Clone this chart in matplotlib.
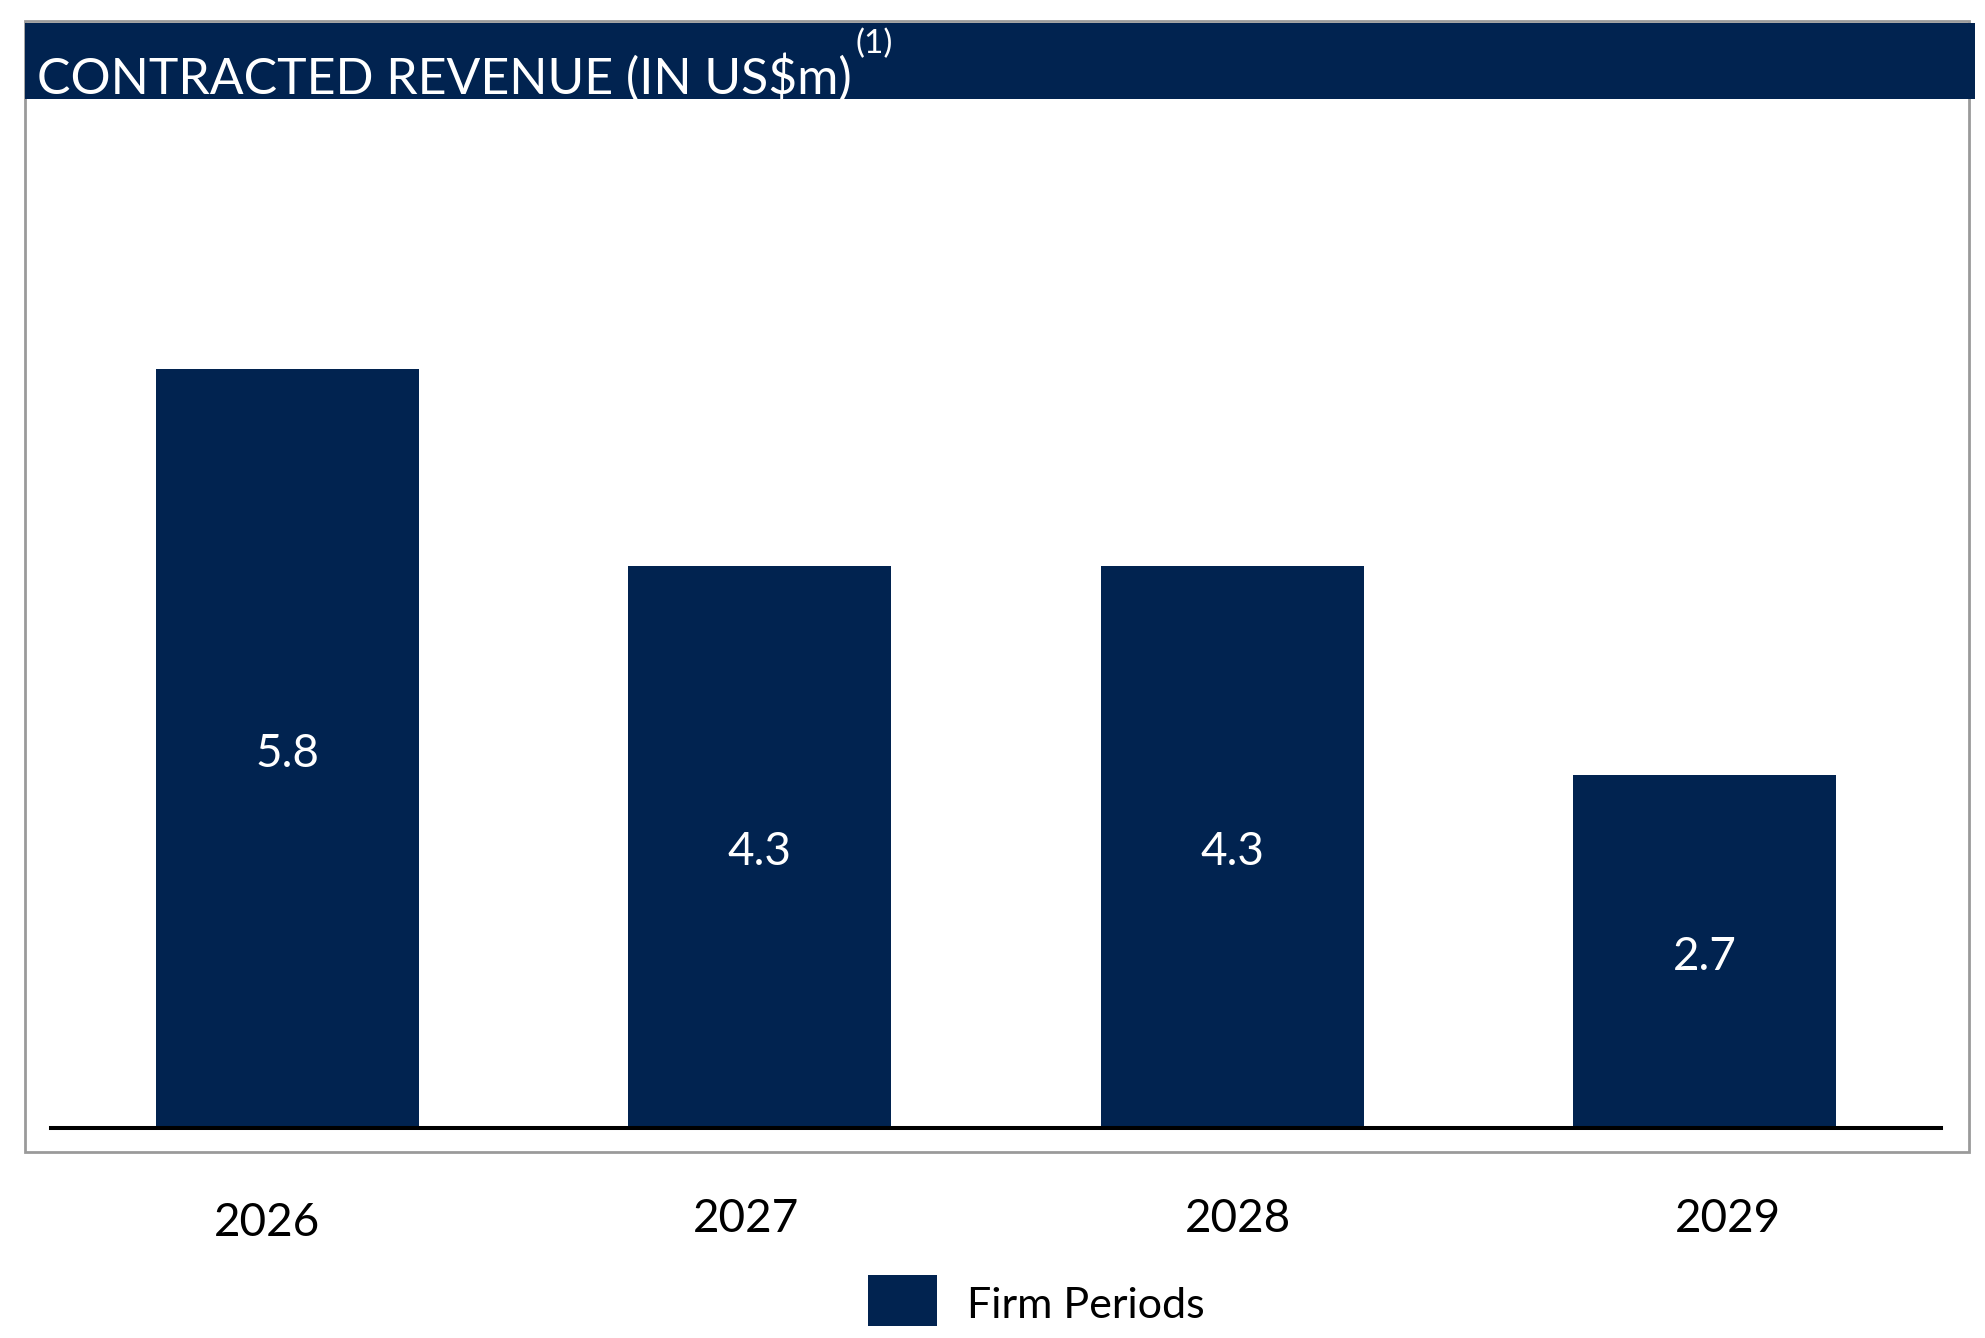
import matplotlib
matplotlib.use("Agg")
import matplotlib.pyplot as plt
from matplotlib.patches import Rectangle

years = ["2026", "2027", "2028", "2029"]
revenue = [5.8, 4.3, 4.3, 2.7]
series_name = "Firm Periods"
title = "CONTRACTED REVENUE (IN US$m)"
footnote = "(1)"

navy = "#012350"
W, H = 1985, 1338
plt.rcParams["font.family"] = ["Lato", "DejaVu Sans"]

fig = plt.figure(figsize=(W / 100, H / 100), dpi=100)

def fx(px):
    return px / W

def fy(py):
    return 1 - py / H

# outer frame and title banner
fig.patches.append(Rectangle((fx(25), fy(1152)), fx(1969) - fx(25), fy(21) - fy(1152),
                             transform=fig.transFigure, facecolor="none",
                             edgecolor="#9a9a9a", lw=2, zorder=0))
fig.patches.append(Rectangle((fx(25), fy(99)), fx(1975) - fx(25), fy(23) - fy(99),
                             transform=fig.transFigure, facecolor=navy,
                             edgecolor="none", zorder=1))
fig.text(fx(37), fy(78), title, color="white", fontsize=36, va="center", ha="left")
fig.text(fx(855), fy(44), footnote, color="white", fontsize=24, va="center", ha="left")

ax = fig.add_axes([fx(51), fy(1128), fx(1941) - fx(51), fy(134) - fy(1128)])
x = range(len(years))
bars = ax.bar(x, revenue, width=0.556, color=navy)
for b, v in zip(bars, revenue):
    ax.annotate(f"{v:.1f}", (b.get_x() + b.get_width() / 2, v / 2),
                xytext=(0, -4), textcoords="offset points", color="white",
                fontsize=33, ha="center", va="center")

ax.set_xlim(-0.5, 3.5)
ax.set_ylim(0, 7.6)
for s in ["top", "left", "right"]:
    ax.spines[s].set_visible(False)
ax.spines["bottom"].set_linewidth(2.9)
ax.spines["bottom"].set_color("black")
ax.set_xticks([])
ax.set_yticks([])

# year labels sit below the frame, slightly off the bar centres
label_x = [267, 746, 1238, 1728]
label_y = [1223, 1219, 1219, 1219]
for lx, ly, yr in zip(label_x, label_y, years):
    fig.text(fx(lx), fy(ly), yr, fontsize=33, ha="center", va="center", color="black")

# legend
fig.patches.append(Rectangle((fx(868), fy(1326)), fx(937) - fx(868), fy(1275) - fy(1326),
                             transform=fig.transFigure, facecolor=navy, edgecolor="none"))
fig.text(fx(967), fy(1306), series_name, fontsize=31, ha="left", va="center")

fig.savefig("out.png", dpi=100)
